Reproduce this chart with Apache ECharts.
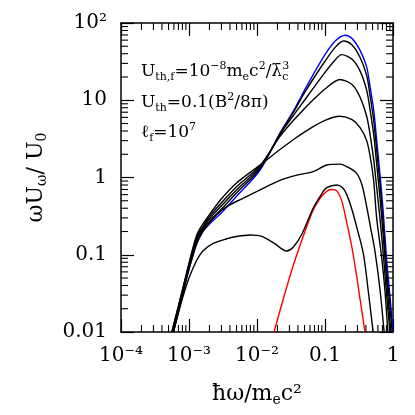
<!DOCTYPE html>
<html>
<head>
<meta charset="utf-8">
<script src="https://cdn.jsdelivr.net/npm/echarts@6/dist/echarts.min.js"></script>
<style>
  html, body { margin: 0; padding: 0; background: #fff; }
  #chart { width: 415px; height: 415px; }
</style>
</head>
<body>
<div id="chart"></div>
<script>
// tick labels (log axes, one per decade)
const xTickLabels = ['10⁻⁴', '10⁻³', '10⁻²', '0.1', '1']
const yTickLabels = ['0.01', '0.1', '1', '10', '10²']

// spectra, [ħω/mc², ωUω/U0]
const blueCurve = [[5.9e-4, 0.01], [8e-4, 0.03], [1e-3, 0.065], [1.3e-3, 0.14], [1.6e-3, 0.2], [2e-3, 0.25], [3e-3, 0.35], [5e-3, 0.57], [0.0111, 1.25], [0.0218, 3.75], [0.035, 7.5], [0.05, 13.5], [0.07, 23], [0.1, 39], [0.14, 58], [0.197, 69.5], [0.25, 63], [0.327, 44.5], [0.41, 27], [0.46, 15], [0.52, 7.5], [0.575, 3.05], [0.65, 1.0], [0.72, 0.35], [0.807, 0.085], [0.9, 0.03], [1.0, 0.01]]
const curve1 = [[5.8e-4, 0.01], [8e-4, 0.032], [1e-3, 0.07], [1.3e-3, 0.15], [1.6e-3, 0.21], [2e-3, 0.27], [3e-3, 0.39], [5e-3, 0.63], [0.0111, 1.3], [0.0218, 3.7], [0.035, 7.2], [0.05, 12.5], [0.07, 20], [0.1, 32], [0.14, 48], [0.186, 58.6], [0.25, 52], [0.327, 36], [0.41, 21], [0.46, 11.5], [0.52, 5.5], [0.575, 2.3], [0.65, 0.75], [0.72, 0.25], [0.8, 0.07], [0.9, 0.022], [0.97, 0.01]]
const curve2 = [[5.7e-4, 0.01], [8e-4, 0.033], [1e-3, 0.072], [1.3e-3, 0.16], [1.6e-3, 0.22], [2e-3, 0.29], [3e-3, 0.43], [5e-3, 0.69], [0.0111, 1.36], [0.0218, 3.6], [0.035, 6.5], [0.05, 10], [0.07, 15], [0.1, 23], [0.14, 33], [0.175, 39], [0.25, 34], [0.327, 24], [0.41, 13.5], [0.46, 7.5], [0.52, 3.6], [0.575, 1.5], [0.65, 0.5], [0.72, 0.17], [0.8, 0.05], [0.93, 0.01]]
const curve3 = [[5.6e-4, 0.01], [8e-4, 0.034], [1e-3, 0.075], [1.3e-3, 0.17], [1.6e-3, 0.23], [2e-3, 0.31], [3e-3, 0.47], [5e-3, 0.76], [0.0111, 1.42], [0.0218, 3.4], [0.035, 5.6], [0.05, 7.8], [0.07, 10.5], [0.1, 14], [0.166, 18.6], [0.25, 16], [0.327, 11], [0.41, 6.2], [0.46, 3.6], [0.52, 1.7], [0.575, 0.75], [0.65, 0.27], [0.72, 0.1], [0.8, 0.033], [0.9, 0.01]]
const curve4 = [[5.6e-4, 0.01], [8e-4, 0.035], [1e-3, 0.078], [1.3e-3, 0.18], [1.6e-3, 0.25], [2e-3, 0.33], [3e-3, 0.53], [5e-3, 0.85], [0.0117, 1.5], [0.0218, 2.3], [0.0362, 3.2], [0.06, 4.3], [0.1, 5.5], [0.166, 6.2], [0.25, 5.6], [0.33, 4.4], [0.41, 3.0], [0.46, 1.9], [0.52, 0.9], [0.575, 0.3], [0.68, 0.094], [0.76, 0.035], [0.84, 0.01]]
const curve5 = [[5.9e-4, 0.01], [8e-4, 0.03], [1e-3, 0.065], [1.3e-3, 0.14], [1.6e-3, 0.2], [2e-3, 0.26], [2.55e-3, 0.33], [3.58e-3, 0.42], [6e-3, 0.53], [0.0111, 0.69], [0.0218, 0.92], [0.04, 1.08], [0.067, 1.19], [0.106, 1.45], [0.166, 1.49], [0.22, 1.35], [0.292, 1.13], [0.35, 0.8], [0.41, 0.42], [0.47, 0.22], [0.54, 0.115], [0.645, 0.035], [0.74, 0.01]]
const curve6 = [[5.9e-4, 0.01], [8e-4, 0.027], [1e-3, 0.05], [1.3e-3, 0.085], [1.6e-3, 0.112], [2.27e-3, 0.14], [3.5e-3, 0.16], [5e-3, 0.172], [7.9e-3, 0.18], [0.012, 0.172], [0.018, 0.14], [0.0272, 0.112], [0.034, 0.125], [0.045, 0.18], [0.067, 0.4], [0.09, 0.62], [0.106, 0.74], [0.149, 0.8], [0.18, 0.74], [0.209, 0.6], [0.25, 0.38], [0.292, 0.23], [0.366, 0.104], [0.44, 0.03], [0.51, 0.01]]
const redCurve = [[0.0178, 0.01], [0.025, 0.029], [0.034, 0.072], [0.048, 0.175], [0.067, 0.38], [0.08, 0.5], [0.094, 0.6], [0.121, 0.7], [0.14, 0.69], [0.157, 0.63], [0.18, 0.47], [0.209, 0.26], [0.235, 0.16], [0.26, 0.1], [0.29, 0.055], [0.327, 0.027], [0.387, 0.01]]

// minor tick positions 2..9 within each decade
const xDecades = [-4, -3, -2, -1]
const yDecades = [-2, -1, 0, 1]
const minorMults = [2, 3, 4, 5, 6, 7, 8, 9]

const FONT = 'DejaVu Serif'

const xMinor = []
xDecades.forEach(d => minorMults.forEach(m => xMinor.push([m * Math.pow(10, d), 1])))
const yMinor = []
yDecades.forEach(d => minorMults.forEach(m => yMinor.push([0.01, m * Math.pow(10, d)])))

const chart = echarts.init(document.getElementById('chart'), null, { renderer: 'canvas' })

function logAxis(min, max, labels, pos, showLabel) {
  return {
    type: 'log',
    logBase: 10,
    min: min,
    max: max,
    interval: 1,
    position: pos,
    axisLine: { show: true, onZero: false, lineStyle: { color: '#000', width: 1.5 } },
    axisTick: { show: true, inside: true, length: 13, lineStyle: { color: '#000', width: 1.2 } },
    minorTick: { show: false },
    splitLine: { show: false },
    axisLabel: {
      show: showLabel,
      color: '#000',
      fontFamily: FONT,
      fontSize: 20,
      margin: 14,
      formatter: v => labels[Math.round(Math.log10(v) - Math.log10(min))]
    }
  }
}

function lineSeries(data, color) {
  return {
    type: 'line',
    data: data,
    smooth: 0.3,
    symbol: 'none',
    clip: true,
    lineStyle: { color: color, width: 1.4 },
    silent: true,
    animation: false
  }
}

const minorLen = 7

const xAxisMain = logAxis(1e-4, 1, xTickLabels, 'bottom', true)
xAxisMain.name = 'ħω/m{s|e}c²'
xAxisMain.nameLocation = 'middle'
xAxisMain.nameGap = 50
xAxisMain.nameTextStyle = {
  color: '#000', fontFamily: FONT, fontSize: 22,
  rich: { s: { fontFamily: FONT, fontSize: 14, padding: [11, 0, 0, 0], color: '#000' } }
}
const yAxisMain = logAxis(0.01, 100, yTickLabels, 'left', true)
yAxisMain.name = 'ωU{s|ω}/ U{s|0}'
yAxisMain.nameLocation = 'middle'
yAxisMain.nameGap = 72
yAxisMain.nameRotate = 90
yAxisMain.nameTextStyle = {
  color: '#000', fontFamily: FONT, fontSize: 22,
  rich: { s: { fontFamily: FONT, fontSize: 14, padding: [11, 0, 0, 0], color: '#000' } }
}

const annRich = {
  n: { fontFamily: FONT, fontSize: 17, lineHeight: 22, verticalAlign: 'middle', color: '#000' },
  b: { fontFamily: FONT, fontSize: 11, lineHeight: 11, verticalAlign: 'bottom', color: '#000' },
  t: { fontFamily: FONT, fontSize: 11, lineHeight: 11, verticalAlign: 'top', color: '#000' },
  t0: { fontFamily: FONT, fontSize: 11, lineHeight: 11, verticalAlign: 'top', width: 0.01, color: '#000' }
}

chart.setOption({
  animation: false,
  grid: { left: 121, right: 22, top: 23, bottom: 83, containLabel: false },
  xAxis: [xAxisMain, logAxis(1e-4, 1, xTickLabels, 'top', false)],
  yAxis: [yAxisMain, logAxis(0.01, 100, yTickLabels, 'right', false)],
  graphic: [
    { type: 'text', left: 141, top: 61, style: { text: '{n|U}{b|th,f}{n|=10}{t|−8}{n|m}{b|e}{n|c}{t|2}{n|/λ̄}{t0|3}{b|c}', rich: annRich } },
    { type: 'text', left: 141, top: 92, style: { text: '{n|U}{b|th}{n|=0.1(B}{t|2}{n|/8π)}', rich: annRich } },
    { type: 'text', left: 141, top: 122, style: { text: '{n|ℓ}{b|f}{n|=10}{t|7}', rich: annRich } }
  ],
  series: [
    lineSeries(redCurve, '#ff0000'),
    lineSeries(blueCurve, '#0000ff'),
    lineSeries(curve1, '#000'),
    lineSeries(curve2, '#000'),
    lineSeries(curve3, '#000'),
    lineSeries(curve4, '#000'),
    lineSeries(curve5, '#000'),
    lineSeries(curve6, '#000'),
    {
      type: 'custom',
      data: xMinor,
      silent: true,
      renderItem: (params, api) => {
        const p = api.coord([api.value(0), api.value(1)])
        const cs = params.coordSys
        const st = { stroke: '#000', lineWidth: 1.1 }
        return {
          type: 'group',
          children: [
            { type: 'line', shape: { x1: p[0], y1: cs.y + cs.height, x2: p[0], y2: cs.y + cs.height - minorLen }, style: st },
            { type: 'line', shape: { x1: p[0], y1: cs.y, x2: p[0], y2: cs.y + minorLen }, style: st }
          ]
        }
      }
    },
    {
      type: 'custom',
      data: yMinor,
      silent: true,
      renderItem: (params, api) => {
        const p = api.coord([api.value(0), api.value(1)])
        const cs = params.coordSys
        const st = { stroke: '#000', lineWidth: 1.1 }
        return {
          type: 'group',
          children: [
            { type: 'line', shape: { x1: cs.x, y1: p[1], x2: cs.x + minorLen, y2: p[1] }, style: st },
            { type: 'line', shape: { x1: cs.x + cs.width, y1: p[1], x2: cs.x + cs.width - minorLen, y2: p[1] }, style: st }
          ]
        }
      }
    }
  ]
})
</script>
</body>
</html>
